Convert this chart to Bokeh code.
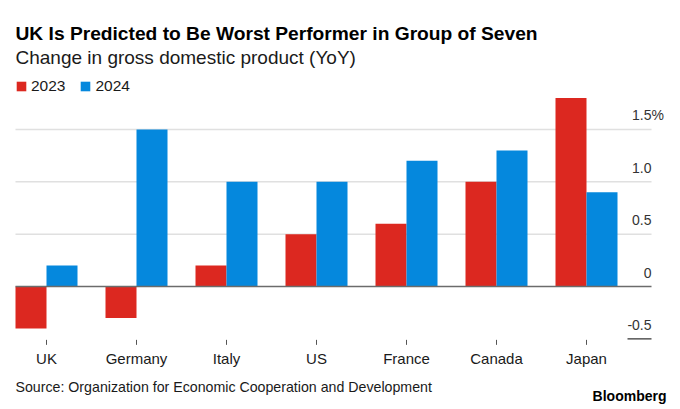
from bokeh.plotting import figure
from bokeh.models import ColumnDataSource, Range1d, Label
from bokeh.transform import dodge
from bokeh.core.properties import value
from bokeh.embed import file_html
from bokeh.resources import INLINE

# ---- data ----
countries = ["UK", "Germany", "Italy", "US", "France", "Canada", "Japan"]
gdp_2023 = [-0.4, -0.3, 0.2, 0.5, 0.6, 1.0, 1.8]
gdp_2024 = [0.2, 1.5, 1.0, 1.0, 1.2, 1.3, 0.9]
y_ticks = [-0.5, 0, 0.5, 1.0, 1.5]
y_tick_labels = ["-0.5", "0", "0.5", "1.0", "1.5"]
grid_values = [0.5, 1.0, 1.5]
series_names = ["2023", "2024"]

title_text = "UK Is Predicted to Be Worst Performer in Group of Seven"
subtitle_text = "Change in gross domestic product (YoY)"
source_text = "Source: Organization for Economic Cooperation and Development"
brand_text = "Bloomberg"

# ---- style / layout ----
FONT = "Liberation Sans"
RED = "#dc2820"
BLUE = "#0588dd"
TXT = "#1a1a1a"
W, H = 680, 409
PX_X = 90.0          # pixels per category
PX_Y = 104.7         # pixels per 1 percentage point
ZERO_Y = 286         # pixel row of zero line
FIRST_X = 46         # pixel column of first category centre

x_start = -FIRST_X / PX_X
x_end = x_start + W / PX_X
y_end = ZERO_Y / PX_Y
y_start = y_end - H / PX_Y
plot_left = x_start + 15 / PX_X
plot_right = x_start + 651 / PX_X
stub_left = x_start + 627 / PX_X

idx = list(range(len(countries)))
src = ColumnDataSource(dict(x=idx, a=gdp_2023, b=gdp_2024))
bar_w = 31 / PX_X

p = figure(width=W, height=H, output_backend="svg", toolbar_location=None,
           x_range=Range1d(x_start, x_end), y_range=Range1d(y_start, y_end),
           x_axis_location=None, y_axis_location=None,
           min_border=0)
p.outline_line_color = None
p.grid.visible = False
p.background_fill_color = "white"
p.border_fill_color = "white"

# gridlines
p.segment(x0=plot_left, y0=grid_values, x1=plot_right, y1=grid_values,
          line_color="#e0e0e0", line_width=1.5)

p.vbar(x=dodge("x", -bar_w / 2, range=p.x_range), top="a", width=bar_w,
       source=src, fill_color=RED, line_color=None, legend_label=series_names[0])
p.vbar(x=dodge("x", bar_w / 2, range=p.x_range), top="b", width=bar_w,
       source=src, fill_color=BLUE, line_color=None, legend_label=series_names[1])

# zero line and -0.5 stub
p.segment(x0=[plot_left], y0=[0], x1=[plot_right], y1=[0], line_color="#6b6b6b", line_width=1.5)
p.segment(x0=[stub_left], y0=[y_ticks[0]], x1=[plot_right], y1=[y_ticks[0]],
          line_color="#555555", line_width=1.5)

# category ticks and labels
tick_top = y_ticks[0] - 1 / PX_Y
tick_bot = y_ticks[0] - 6 / PX_Y
p.segment(x0=idx, y0=[tick_top] * len(idx), x1=idx, y1=[tick_bot] * len(idx),
          line_color="#555555", line_width=1)
p.text(x=idx, y=[y_ticks[0]] * len(idx), text=countries,
       text_align="center", text_baseline="middle", y_offset=20,
       text_font=value(FONT), text_font_size="15px", text_color=TXT)

# y tick labels (right side, above gridlines)
p.text(x=[plot_right] * len(y_ticks), y=y_ticks, text=y_tick_labels,
       text_align="right", text_baseline="middle", y_offset=-14,
       text_font=value(FONT), text_font_size="14px", text_color="#333333")
p.text(x=[plot_right], y=[y_ticks[-1]], text=["%"],
       text_align="left", text_baseline="middle", y_offset=-14,
       text_font=value(FONT), text_font_size="14px", text_color="#333333")

# legend
lg = p.legend[0]
lg.location = (15, H - 96)
lg.orientation = "horizontal"
lg.background_fill_alpha = 0
lg.border_line_color = None
lg.margin = 0
lg.padding = 0
lg.glyph_width = 12
lg.glyph_height = 12
lg.label_standoff = 4
lg.spacing = 14
lg.label_height = 20
lg.label_text_font = FONT
lg.label_text_font_size = "15.5px"
lg.label_text_color = TXT

# titles and footer (screen units, origin bottom-left of canvas)
def add_text(txt, x, cy, size, bold=False, align="left", color=TXT):
    p.add_layout(Label(x=x, y=H - cy, x_units="screen", y_units="screen", text=txt,
                       text_font=FONT, text_font_style="bold" if bold else "normal",
                       text_font_size=size, text_color=color,
                       text_baseline="middle", text_align=align))

add_text(title_text, 15, 33, "19.2px", bold=True, color="#000000")
add_text(subtitle_text, 15, 57, "19px")
add_text(source_text, 15, 386, "14.2px")
add_text(brand_text, 666, 395, "14px", bold=True, align="right", color="#000000")

open("out.html", "w").write(file_html(p, INLINE))
